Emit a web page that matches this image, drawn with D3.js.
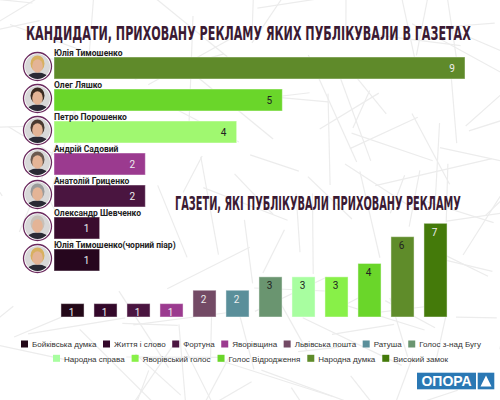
<!DOCTYPE html>
<html><head><meta charset="utf-8">
<script src="https://cdnjs.cloudflare.com/ajax/libs/d3/7.8.5/d3.min.js"></script>
<style>
html,body{margin:0;padding:0;background:#fff;}
svg{display:block;font-family:Roboto,"Liberation Sans",Arial,sans-serif;}
</style></head>
<body>
<svg id="c" width="500" height="400"></svg>
<script>
// ---------- DATA ----------
const title1 = "КАНДИДАТИ, ПРИХОВАНУ РЕКЛАМУ ЯКИХ ПУБЛІКУВАЛИ В ГАЗЕТАХ";
const title2 = "ГАЗЕТИ, ЯКІ ПУБЛІКУВАЛИ ПРИХОВАНУ РЕКЛАМУ";

const candidates = ["Юлія Тимошенко","Олег Ляшко","Петро Порошенко","Андрій Садовий","Анатолій Гриценко","Олександр Шевченко","Юлія Тимошенко(чорний піар)"];
const candidateValues = [9,5,4,2,2,1,1];

const newspapers = ["Бойківська думка","Життя і слово","Фортуна","Яворівщина","Львівська пошта","Ратуша","Голос з-над Бугу","Народна справа","Яворівський голос","Голос Відродження","Народна думка","Високий замок"];
const newspaperValues = [1,1,1,1,2,2,3,3,3,4,6,7];

// ---------- STYLE ----------
const candidateColors = ["#5f8a2a","#6ad62a","#a0f870","#9b3a8f","#4a1540","#3a0c2e","#26061e"];
const candidateLabelDark = [false,true,true,false,false,false,false];
const candidateHair = ["#d8b060","#3a2a20","#4a3a30","#6a5a50","#9a9a9a","#c8c0b8","#d8b060"];
const newspaperColors = ["#230818","#33082a","#4a1540","#9b3a8f","#734a65","#5a8f9a","#6a9570","#a8fea0","#88f048","#6ad62a","#5f8c2a","#447a0a"];
const newspaperLabelDark = [false,false,false,false,false,false,true,true,true,true,true,false];
const legendRows = [{n:7, x0:21, x1:481, y:344}, {n:5, x0:53, x1:448, y:358.3}];

// ---------- DRAW ----------
const svg = d3.select("#c");

// decorative background strokes (deterministic)
let seed = 11;
function rnd(){ seed = (seed*16807) % 2147483647; return seed/2147483647; }
const bg = svg.append("g");
for(let i=0;i<110;i++){
  const x = rnd()*520-10, y = rnd()*420-10, a = rnd()*Math.PI, L = 40+rnd()*80;
  bg.append("line").attr("x1",x-Math.cos(a)*L/2).attr("y1",y-Math.sin(a)*L/2)
    .attr("x2",x+Math.cos(a)*L/2).attr("y2",y+Math.sin(a)*L/2)
    .attr("stroke","#ececec").attr("stroke-width",1.2);
}

const titleFont = '"Liberation Sans Narrow","DejaVu Sans Condensed","Roboto Condensed",sans-serif';
function fitTitle(txt, x, y, w){
  const t = svg.append("text").attr("x",x).attr("y",y).attr("font-family",titleFont)
    .attr("font-size",19.5).attr("font-weight","bold").attr("fill","#3b1a33").text(txt);
  const nat = t.node().getComputedTextLength();
  t.attr("x",0).attr("y",0).attr("transform",`translate(${x},${y}) scale(${w/nat},1)`);
}
fitTitle(title1, 26, 39.5, 445);
fitTitle(title2, 175, 209.5, 286);

// top horizontal bars
const xTop = d3.scaleLinear().domain([0,9]).range([54,465]);
const yTop = d3.scaleBand().domain(candidates.map((d,i)=>i)).range([57,271]).paddingInner(0.3125).paddingOuter(0);
const topG = svg.append("g");
candidates.forEach((name,i)=>{
  const y0 = yTop(i), h = yTop.bandwidth(), v = candidateValues[i];
  topG.append("rect").attr("x",xTop(0)).attr("y",y0).attr("width",xTop(v)-xTop(0)).attr("height",h)
    .attr("fill",candidateColors[i]).attr("stroke","rgba(255,255,255,0.45)").attr("stroke-width",1);
  topG.append("text").attr("x",xTop(0)).attr("y",y0-1.5).attr("font-size",8.5).attr("font-weight","bold")
    .attr("fill","#222").text(name);
  topG.append("text").attr("x",xTop(v)-13).attr("y",y0+h/2+3.5).attr("text-anchor","middle").attr("font-size",10)
    .attr("fill",candidateLabelDark[i]?"#222":"#eee").text(v);
  // avatar
  const cx = 37.5, cy = y0+h/2-1.5, r = 14;
  const clipId = "clip"+i;
  svg.append("clipPath").attr("id",clipId).append("circle").attr("cx",cx).attr("cy",cy).attr("r",r-1.5);
  const g = topG.append("g");
  g.append("circle").attr("cx",cx).attr("cy",cy).attr("r",r).attr("fill","#fff").attr("stroke","#6b2a5e").attr("stroke-width",1.3);
  const a = g.append("g").attr("clip-path",`url(#${clipId})`);
  a.append("rect").attr("x",cx-r).attr("y",cy-r).attr("width",2*r).attr("height",2*r).attr("fill","#d8d8d8");
  a.append("ellipse").attr("cx",cx).attr("cy",cy+14).attr("rx",12).attr("ry",8).attr("fill","#2a2a35");
  a.append("ellipse").attr("cx",cx).attr("cy",cy-3).attr("rx",7).attr("ry",8).attr("fill",candidateHair[i]);
  a.append("ellipse").attr("cx",cx).attr("cy",cy-0.5).attr("rx",5.3).attr("ry",6.8).attr("fill","#e4b496");
});

// bottom vertical bars
const xB = d3.scaleBand().domain(newspapers).range([56,452]).paddingInner(0.3).paddingOuter(0.15);
const yB = d3.scaleLinear().domain([0,7]).range([317,223.3]);
const bot = svg.append("g");
newspapers.forEach((n,i)=>{
  const v = newspaperValues[i];
  bot.append("rect").attr("x",xB(n)).attr("y",yB(v)).attr("width",xB.bandwidth()).attr("height",yB(0)-yB(v))
    .attr("fill",newspaperColors[i]).attr("stroke","rgba(255,255,255,0.45)").attr("stroke-width",1);
  bot.append("text").attr("x",xB(n)+xB.bandwidth()/2-1).attr("y",yB(v)+12.5).attr("text-anchor","middle")
    .attr("font-size",10).attr("fill",newspaperLabelDark[i]?"#222":"#eee").text(v);
});

// legend
const legFont = "'Liberation Sans',Arial,sans-serif";
const leg = svg.append("g").attr("fill","#333");
const items = newspapers.map((n,i)=>{
  const t = leg.append("text").attr("font-size",10).attr("font-family",legFont).text(n).attr("fill","#333");
  return {n,i,t,w10:t.node().getComputedTextLength()};
});
// font size so that items are spaced like the reference (~6.5px between items)
let fs = 10, s = 0;
legendRows.forEach(rw=>{
  const row = items.slice(s,s+rw.n); s += rw.n;
  const avail = rw.x1 - rw.x0 - row.length*11 - (row.length-1)*6.5;
  fs = Math.min(fs, 10*avail/d3.sum(row,d=>d.w10));
});
let start = 0;
legendRows.forEach(rw=>{
  const row = items.slice(start,start+rw.n); start += rw.n;
  row.forEach(it=>{ it.t.attr("font-size",fs); it.w = it.w10*fs/10 + 11; });
  const gap = (rw.x1 - rw.x0 - d3.sum(row,d=>d.w))/(row.length-1);
  let x = rw.x0;
  row.forEach(it=>{
    leg.append("rect").attr("x",x).attr("y",rw.y-3.5).attr("width",7).attr("height",7).attr("fill",newspaperColors[it.i]);
    it.t.attr("x",x+11).attr("y",rw.y+3.2);
    x += it.w + gap;
  });
});

// logo
const logo = svg.append("g");
logo.append("rect").attr("x",417).attr("y",372.7).attr("width",59).attr("height",16.6).attr("fill","#2a78b4");
logo.append("rect").attr("x",477.7).attr("y",372.7).attr("width",16.6).attr("height",16.6).attr("fill","#2a78b4");
logo.append("text").attr("x",446.5).attr("y",386).attr("text-anchor","middle").attr("font-size",14).attr("font-weight","bold")
  .attr("font-family","'Liberation Sans',Arial,sans-serif").attr("fill","#fff").text("ОПОРА");
logo.append("path").attr("d","M486,375.5 L491.5,386.5 L480.5,386.5 Z").attr("fill","#fff");
</script>
</body></html>
